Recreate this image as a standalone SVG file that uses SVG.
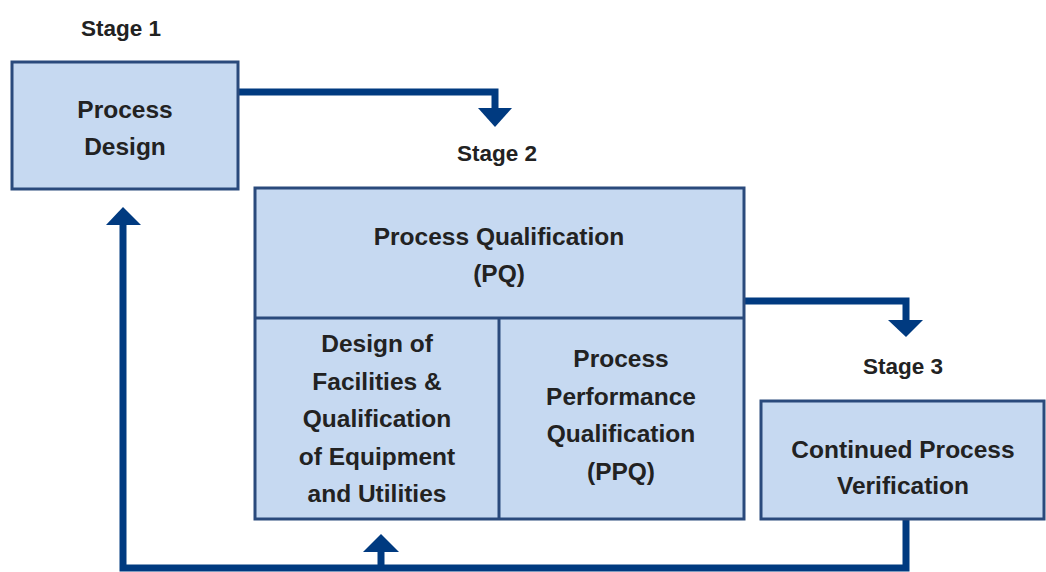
<svg xmlns="http://www.w3.org/2000/svg" width="1046" height="572" viewBox="0 0 1046 572">
<defs>
<style>
.box{fill:#c6d9f1;stroke:#2a4a7c;stroke-width:3}
.t{font-family:"Liberation Sans",Arial,sans-serif;font-weight:bold;font-size:24.5px;fill:#222222;text-anchor:middle}
.s{font-family:"Liberation Sans",Arial,sans-serif;font-weight:bold;font-size:22.5px;fill:#222222;text-anchor:middle}
.ln{fill:none;stroke:#003a80;stroke-width:7}
.ah{fill:#003a80}
</style>
</defs>
<rect width="1046" height="572" fill="#ffffff"/>
<g id="connectors">
<polyline class="ln" points="238,92 495,92 495,110"/>
<polygon class="ah" points="478,108 512,108 495,127"/>
<polyline class="ln" points="744,301 906,301 906,322"/>
<polygon class="ah" points="888,320 923,320 906,337"/>
<polyline class="ln" points="906,519 906,568 123,568 123,222"/>
<polygon class="ah" points="106,225 141,225 123,207"/>
<line class="ln" x1="381" y1="568" x2="381" y2="550"/>
<polygon class="ah" points="363,552 399,552 381,534"/>
</g>
<g id="stage1">
<text class="s" x="121" y="36">Stage 1</text>
<rect class="box" x="12" y="62" width="226" height="127"/>
<text class="t" x="125" y="118">Process</text>
<text class="t" x="125" y="155">Design</text>
</g>
<g id="stage2">
<text class="s" x="497" y="161">Stage 2</text>
<rect class="box" x="255" y="188" width="489" height="331"/>
<line stroke="#2a4a7c" stroke-width="3" x1="255" y1="318" x2="744" y2="318"/>
<line stroke="#2a4a7c" stroke-width="3" x1="499" y1="318" x2="499" y2="519"/>
</g>
<g id="pq">
<text class="t" x="499" y="245">Process Qualification</text>
<text class="t" x="499" y="282">(PQ)</text>
</g>
<g id="design-facilities">
<text class="t" x="377" y="352">Design of</text>
<text class="t" x="377" y="390">Facilities &amp;</text>
<text class="t" x="377" y="427">Qualification</text>
<text class="t" x="377" y="465">of Equipment</text>
<text class="t" x="377" y="502">and Utilities</text>
</g>
<g id="ppq">
<text class="t" x="621" y="367">Process</text>
<text class="t" x="621" y="405">Performance</text>
<text class="t" x="621" y="442">Qualification</text>
<text class="t" x="621" y="480">(PPQ)</text>
</g>
<g id="stage3">
<text class="s" x="903" y="374">Stage 3</text>
<rect class="box" x="761" y="401" width="283" height="118"/>
<text class="t" x="903" y="458">Continued Process</text>
<text class="t" x="903" y="494">Verification</text>
</g>
</svg>
